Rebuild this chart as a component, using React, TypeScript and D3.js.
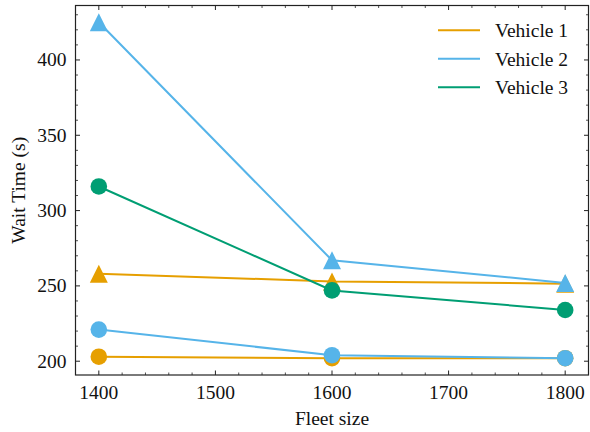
import React from "react";
import * as d3 from "d3";

const fleetSizes = [1400, 1600, 1800];
const vehicleNames = ["Vehicle 1", "Vehicle 2", "Vehicle 3"];
const vehicleColors = ["#E69F00", "#56B4E9", "#009E73"];
const v1Triangle = [258, 253, 251.5];
const v1Circle = [203, 202, 202];
const v2Triangle = [425, 267, 252];
const v2Circle = [221, 204, 202];
const v3Circle = [316, 247, 234];
const xTicks = [1400, 1500, 1600, 1700, 1800];
const yTicks = [200, 250, 300, 350, 400];

type Series = { vehicle: number; marker: "tri" | "circ"; values: number[] };
const series: Series[] = [
  { vehicle: 0, marker: "tri", values: v1Triangle },
  { vehicle: 0, marker: "circ", values: v1Circle },
  { vehicle: 1, marker: "tri", values: v2Triangle },
  { vehicle: 1, marker: "circ", values: v2Circle },
  { vehicle: 2, marker: "circ", values: v3Circle },
];

const W = 590, H = 432;
const L = 75.5, R = 588.5, T = 5.5, B = 375;
const FS = 19.5;
const txt: React.CSSProperties = { fontFamily: "Liberation Serif, serif" };

export default function App() {
  const allVals = series.flatMap((s) => s.values);
  const yMin = d3.min(allVals)!, yMax = d3.max(allVals)!;
  const yPad = (yMax - yMin) * 0.05;
  const x = d3.scaleLinear().domain([1380, 1820]).range([L, R]);
  const y = d3.scaleLinear().domain([yMin - yPad, yMax + yPad]).range([B, T]);
  const line = d3
    .line<number>()
    .x((_, i) => x(fleetSizes[i]))
    .y((v) => y(v));

  const xMinor = d3.range(1380, 1821, 20).filter((v) => v % 100 !== 0);
  const yMinor = d3.range(200, 440, 10).filter((v) => v % 50 !== 0 && y(v) >= T && y(v) <= B);
  const maj = 4.5, mnr = 2.5;
  const triSize = 18;
  const triPath = `M0,${-triSize / 2}L${triSize / 2},${triSize / 2}L${-triSize / 2},${triSize / 2}Z`;

  return (
    <svg width={W} height={H} style={{ position: "absolute", left: 0, top: 0, background: "#fff" }}>
      <rect width={W} height={H} fill="#fff" />
      {series.map((s, si) => (
        <g key={si}>
          <path d={line(s.values)!} fill="none" stroke={vehicleColors[s.vehicle]} strokeWidth={2} />
          {s.values.map((v, i) =>
            s.marker === "circ" ? (
              <circle key={i} cx={x(fleetSizes[i])} cy={y(v)} r={8.3} fill={vehicleColors[s.vehicle]} />
            ) : (
              <path
                key={i}
                d={triPath}
                transform={`translate(${x(fleetSizes[i])},${y(v)})`}
                fill={vehicleColors[s.vehicle]}
              />
            )
          )}
        </g>
      ))}
      <rect x={L} y={T} width={R - L} height={B - T} fill="none" stroke="#222" strokeWidth={1.2} />
      {xTicks.map((t) => (
        <g key={"xt" + t}>
          <line x1={x(t)} x2={x(t)} y1={B} y2={B - maj} stroke="#222" strokeWidth={1} />
          <line x1={x(t)} x2={x(t)} y1={T} y2={T + maj} stroke="#222" strokeWidth={1} />
          <text x={x(t)} y={398.5} textAnchor="middle" fontSize={FS} fill="#111" style={txt}>
            {t}
          </text>
        </g>
      ))}
      {xMinor.map((t) => (
        <g key={"xm" + t}>
          <line x1={x(t)} x2={x(t)} y1={B} y2={B - mnr} stroke="#222" strokeWidth={0.8} />
          <line x1={x(t)} x2={x(t)} y1={T} y2={T + mnr} stroke="#222" strokeWidth={0.8} />
        </g>
      ))}
      {yTicks.map((t) => (
        <g key={"yt" + t}>
          <line x1={L} x2={L + maj} y1={y(t)} y2={y(t)} stroke="#222" strokeWidth={1} />
          <line x1={R} x2={R - maj} y1={y(t)} y2={y(t)} stroke="#222" strokeWidth={1} />
          <text x={66.5} y={y(t)} dy="0.33em" textAnchor="end" fontSize={FS} fill="#111" style={txt}>
            {t}
          </text>
        </g>
      ))}
      {yMinor.map((t) => (
        <g key={"ym" + t}>
          <line x1={L} x2={L + mnr} y1={y(t)} y2={y(t)} stroke="#222" strokeWidth={0.8} />
          <line x1={R} x2={R - mnr} y1={y(t)} y2={y(t)} stroke="#222" strokeWidth={0.8} />
        </g>
      ))}
      <text x={(L + R) / 2} y={424.5} textAnchor="middle" fontSize={FS} fill="#111" style={txt}>
        Fleet size
      </text>
      <text
        transform={`translate(24.5,${(T + B) / 2}) rotate(-90)`}
        textAnchor="middle"
        fontSize={FS}
        fill="#111"
        style={txt}
      >
        Wait Time (s)
      </text>
      {vehicleNames.map((n, i) => (
        <g key={n} transform={`translate(0,${30.3 + i * 28.5})`}>
          <line x1={438} x2={480} y1={0} y2={0} stroke={vehicleColors[i]} strokeWidth={2} />
          <text x={495} y={6.8} fontSize={FS} fill="#111" style={txt}>
            {n}
          </text>
        </g>
      ))}
    </svg>
  );
}
